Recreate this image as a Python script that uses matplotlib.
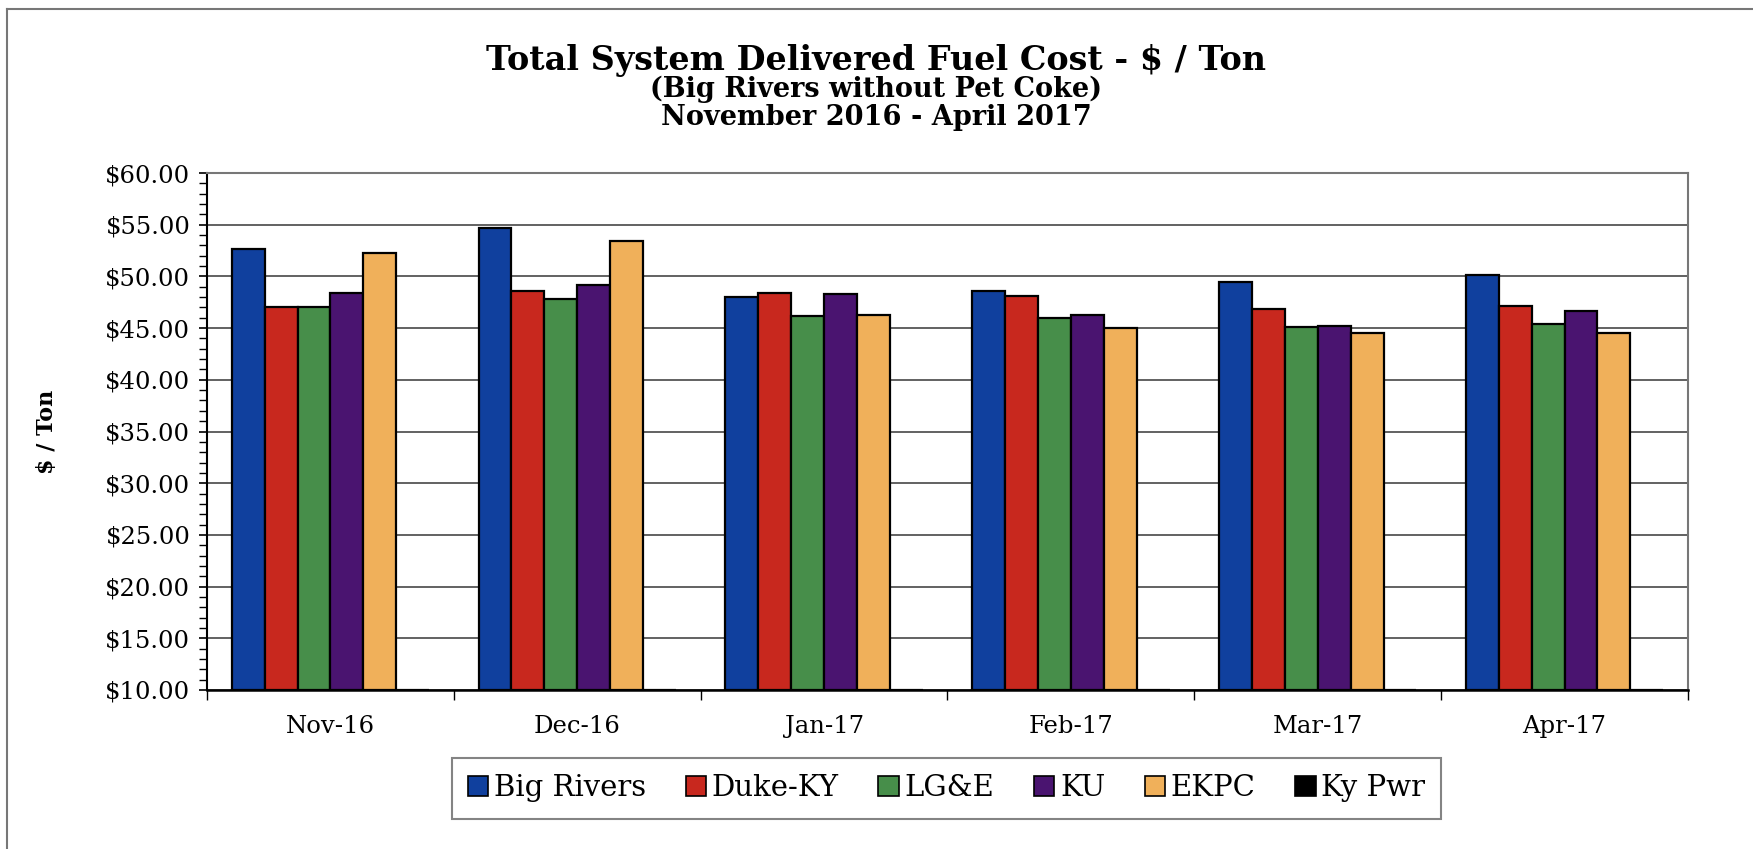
import numpy as np
import matplotlib.pyplot as plt
from matplotlib.ticker import FuncFormatter, MultipleLocator
from matplotlib.lines import Line2D

# dane
months = ['Nov-16', 'Dec-16', 'Jan-17', 'Feb-17', 'Mar-17', 'Apr-17']
big_rivers = [52.67, 54.73, 48.00, 48.60, 49.43, 50.10]
duke_ky = [47.00, 48.63, 48.40, 48.10, 46.83, 47.10]
lge = [47.00, 47.77, 46.17, 45.93, 45.07, 45.40]
ku = [48.43, 49.20, 48.27, 46.27, 45.17, 46.63]
ekpc = [52.23, 53.40, 46.23, 45.00, 44.57, 44.50]
ky_pwr = [0, 0, 0, 0, 0, 0]

series_names = ['Big Rivers', 'Duke-KY', 'LG&E', 'KU', 'EKPC', 'Ky Pwr']
series_vals = [big_rivers, duke_ky, lge, ku, ekpc, ky_pwr]
colors = ['#10409E', '#C8281E', '#478E4A', '#4A1470', '#F0B05A', '#000000']

plt.rcParams['font.family'] = 'DejaVu Serif'

fig = plt.figure(figsize=(17.53, 8.49), dpi=100)
ax = fig.add_axes([0.1181, 0.1873, 0.8448, 0.6089])

y_min = 10
x = np.arange(len(months))
w = 0.8 / len(series_names)
for i, (name, vals, c) in enumerate(zip(series_names, series_vals, colors)):
    vals = np.array(vals, dtype=float)
    # Excel-style: bars start at the axis minimum
    heights = np.maximum(vals, y_min) - y_min
    ax.bar(x - 0.4 + w * (i + 0.5), heights, width=w, bottom=y_min,
           color=c, edgecolor='black', linewidth=1.6, label=name, zorder=3)

ax.set_xlim(-0.5, len(months) - 0.5)
ax.set_ylim(10, 60)

# os Y
ax.yaxis.set_major_locator(MultipleLocator(5))
ax.yaxis.set_minor_locator(MultipleLocator(1))
ax.yaxis.set_major_formatter(FuncFormatter(lambda v, p: '${:.2f}'.format(v)))
ax.tick_params(axis='y', which='major', direction='out', length=6, width=1.2, labelsize=17.5, pad=6)
ax.tick_params(axis='y', which='minor', direction='out', length=6, width=1.0)
ax.grid(axis='y', which='major', color='#555555', linewidth=1.3, zorder=0)

# os X
ax.set_xticks(np.arange(len(months) + 1) - 0.5)
ax.set_xticklabels([])
ax.set_xticks(x, minor=True)
ax.set_xticklabels(months, minor=True)
ax.tick_params(axis='x', which='major', direction='out', length=7, width=1.0)
ax.tick_params(axis='x', which='minor', length=0, labelsize=17.5, pad=18)

ax.spines['left'].set_color('black')
ax.spines['bottom'].set_color('black')
ax.spines['left'].set_linewidth(1.5)
ax.spines['bottom'].set_linewidth(1.8)
ax.spines['top'].set_color('#777777')
ax.spines['right'].set_color('#777777')
ax.spines['top'].set_linewidth(1.5)
ax.spines['right'].set_linewidth(1.5)

ax.set_ylabel('$ / Ton', fontsize=16, fontweight='bold', labelpad=34)

# tytul
fig.text(0.5, 0.929, 'Total System Delivered Fuel Cost - $ / Ton',
         ha='center', va='center', fontsize=24, fontweight='bold')
fig.text(0.5, 0.8946, '(Big Rivers without Pet Coke)',
         ha='center', va='center', fontsize=19.5, fontweight='bold')
fig.text(0.5, 0.862, 'November 2016 - April 2017',
         ha='center', va='center', fontsize=19.5, fontweight='bold')

# legenda
leg = fig.legend(loc='center', bbox_to_anchor=(0.54, 0.0713), ncol=6,
                 fontsize=21, frameon=True, fancybox=False,
                 handlelength=0.7, handleheight=0.7, handletextpad=0.2,
                 columnspacing=1.35, borderpad=0.55, borderaxespad=0)
leg.get_frame().set_edgecolor('#666666')
leg.get_frame().set_linewidth(1.5)
for h in leg.legend_handles:
    h.set_linewidth(1.2)

# ramka
fig.add_artist(Line2D([0.004, 1.0], [0.9894, 0.9894], transform=fig.transFigure,
                      color='#777777', linewidth=1.5))
fig.add_artist(Line2D([0.004, 0.004], [0.0, 0.9894], transform=fig.transFigure,
                      color='#777777', linewidth=1.5))

fig.savefig('out.png', dpi=100)
